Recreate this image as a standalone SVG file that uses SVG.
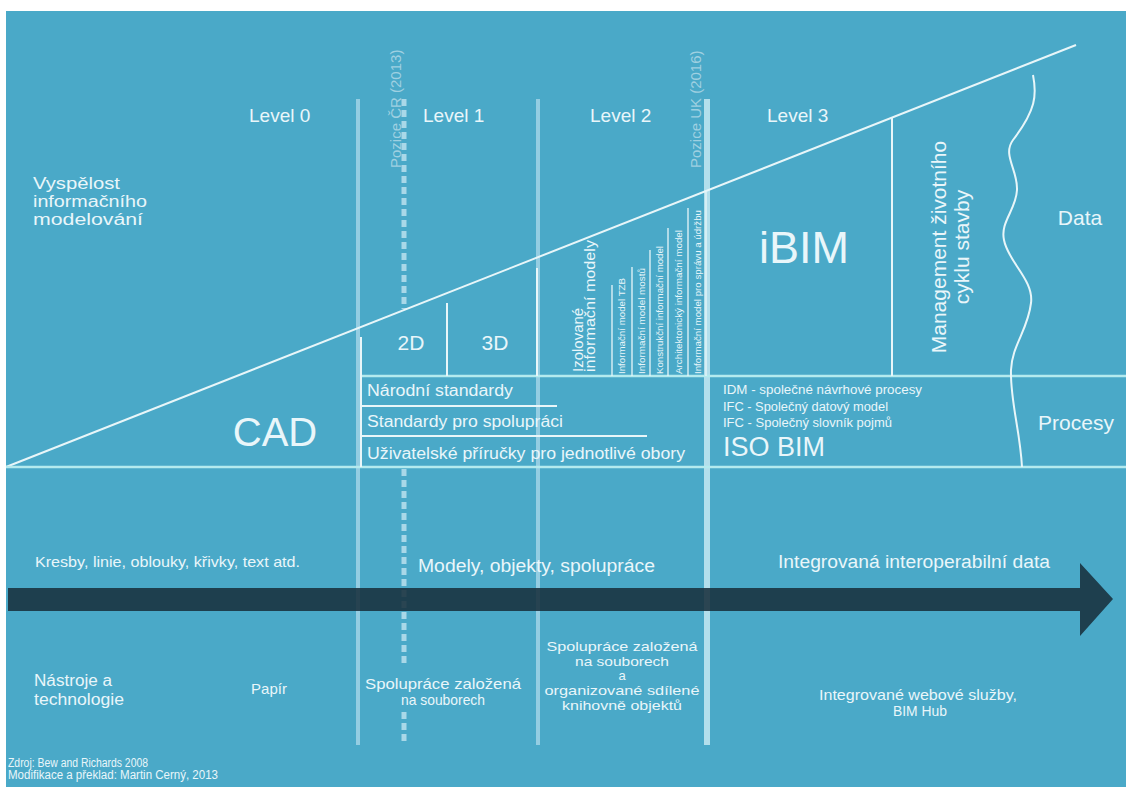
<svg xmlns="http://www.w3.org/2000/svg" width="1126" height="787" viewBox="0 0 1126 787">
  <style>
    text { font-family: "Liberation Sans", Arial, sans-serif; fill: #e9f6fa; }
    .lvl { font-size: 19px; }
    .frame { stroke: #e8f6f9; stroke-width: 2; fill: none; }
    .band { stroke: #b4eaee; stroke-width: 2.5; fill: none; }
    .era { stroke: #94cde2; stroke-width: 4; fill: none; }
    .dash { stroke: #a9d8e8; stroke-width: 5; stroke-dasharray: 7 4; fill: none; }
    .tiny { font-size: 9px; }
    .pos { font-size: 15px; fill: #9fd0e1; }
  </style>

  <!-- background -->
  <rect x="0" y="0" width="1126" height="787" fill="#ffffff"/>
  <rect x="6" y="11" width="1120" height="776" fill="#4aa9c8"/>

  <g id="connectors">
    <!-- era separators and position markers -->
    <line class="era" x1="358" y1="99" x2="358" y2="745"/>
    <line class="era" x1="538" y1="99" x2="538" y2="745" stroke-width="5"/>
    <line x1="707" y1="99" x2="707" y2="745" stroke="#b3dfec" stroke-width="6"/>
    <line class="dash" x1="404" y1="99" x2="404" y2="309"/>
    <line class="dash" x1="404" y1="469" x2="404" y2="664"/>
    <line class="dash" x1="404" y1="712" x2="404" y2="745"/>

    <!-- maturity wedge -->
    <line class="frame" x1="6" y1="467" x2="1076" y2="45"/>
    <line class="band" x1="6" y1="467" x2="1126" y2="467"/>
    <line class="band" x1="360" y1="376" x2="1126" y2="376"/>
    <line class="frame" x1="361" y1="337" x2="361" y2="467"/>
    <line class="frame" x1="447" y1="303" x2="447" y2="376"/>
    <line class="frame" x1="537" y1="268" x2="537" y2="376"/>
    <line class="frame" x1="892" y1="118" x2="892" y2="376"/>
    <line class="frame" x1="360" y1="406" x2="557" y2="406" stroke-width="1.5"/>
    <line class="frame" x1="360" y1="436" x2="647" y2="436" stroke-width="1.5"/>

    <!-- level 2 model columns -->
    <g stroke="#e8f6f9" stroke-width="1.3">
      <line x1="612" y1="285" x2="612" y2="376"/>
      <line x1="632" y1="267" x2="632" y2="376"/>
      <line x1="650" y1="250" x2="650" y2="376"/>
      <line x1="668" y1="228" x2="668" y2="376"/>
      <line x1="688" y1="208" x2="688" y2="376"/>
      <line x1="706" y1="192" x2="706" y2="376"/>
    </g>

    <!-- data / process boundary -->
    <path class="frame" d="M1033,75 C1037,95 1036,110 1013,140 C1002,155 1018,170 1017,190 C1016,210 1000,222 1004,240 C1008,262 1034,280 1031,303 C1028,330 1012,345 1011,370 C1010,400 1020,430 1022,467"/>

    <!-- timeline arrow -->
    <path d="M8,588 L1080,588 L1080,563 L1113,599 L1080,636 L1080,611 L8,611 Z" fill="#18303c" fill-opacity="0.88"/>
  </g>

  <!-- position labels -->
  <g id="pozice-cr">
    <text class="pos" transform="translate(401,168) rotate(-90)">Pozice ČR (2013)</text>
  </g>
  <g id="pozice-uk">
    <text class="pos" transform="translate(701,168) rotate(-90)">Pozice UK (2016)</text>
  </g>

  <g id="levels">
    <text class="lvl" x="249" y="122">Level 0</text>
    <text class="lvl" x="423" y="122">Level 1</text>
    <text class="lvl" x="590" y="122">Level 2</text>
    <text class="lvl" x="767" y="122">Level 3</text>
  </g>

  <g id="vyspelost" font-size="16">
    <text x="33" y="189" textLength="87" lengthAdjust="spacingAndGlyphs">Vyspělost</text>
    <text x="33" y="207" textLength="114" lengthAdjust="spacingAndGlyphs">informačního</text>
    <text x="33" y="225" textLength="110" lengthAdjust="spacingAndGlyphs">modelování</text>
  </g>

  <g id="cad">
    <text font-size="40" x="275" y="446" text-anchor="middle">CAD</text>
  </g>

  <g id="dims">
    <text font-size="21" x="411" y="350" text-anchor="middle">2D</text>
    <text font-size="21" x="495" y="350" text-anchor="middle">3D</text>
  </g>

  <g id="standardy">
    <text font-size="16" x="367" y="396" textLength="146" lengthAdjust="spacingAndGlyphs">Národní standardy</text>
    <text font-size="16" x="367" y="427" textLength="196" lengthAdjust="spacingAndGlyphs">Standardy pro spolupráci</text>
    <text font-size="16" x="367" y="459" textLength="318" lengthAdjust="spacingAndGlyphs">Uživatelské příručky pro jednotlivé obory</text>
  </g>

  <g id="izolovane">
    <text font-size="15" transform="translate(583,372) rotate(-90)">Izolované</text>
    <text font-size="15" transform="translate(595,372) rotate(-90)" textLength="132" lengthAdjust="spacingAndGlyphs">informační modely</text>
    <text class="tiny" transform="translate(625,374) rotate(-90)" textLength="96" lengthAdjust="spacingAndGlyphs">Informační model TZB</text>
    <text class="tiny" transform="translate(645,374) rotate(-90)" textLength="106" lengthAdjust="spacingAndGlyphs">Informační model mostů</text>
    <text class="tiny" transform="translate(663,374) rotate(-90)" textLength="128" lengthAdjust="spacingAndGlyphs">Konstrukční informační model</text>
    <text class="tiny" transform="translate(682,374) rotate(-90)" textLength="144" lengthAdjust="spacingAndGlyphs">Architektonický informační model</text>
    <text class="tiny" transform="translate(701,374) rotate(-90)" textLength="164" lengthAdjust="spacingAndGlyphs">Informační model pro správu a údržbu</text>
  </g>

  <g id="ibim">
    <text font-size="45" x="804" y="263" text-anchor="middle">iBIM</text>
  </g>

  <g id="management">
    <text font-size="21" text-anchor="middle" transform="translate(946,247) rotate(-90)">Management životního</text>
    <text font-size="21" text-anchor="middle" transform="translate(969,247) rotate(-90)">cyklu stavby</text>
  </g>

  <g id="data">
    <text font-size="21" x="1080" y="225" text-anchor="middle">Data</text>
  </g>

  <g id="iso-bim">
    <text font-size="12" x="723" y="394" textLength="199" lengthAdjust="spacingAndGlyphs">IDM - společné návrhové procesy</text>
    <text font-size="12" x="723" y="411" textLength="165" lengthAdjust="spacingAndGlyphs">IFC - Společný datový model</text>
    <text font-size="12" x="723" y="427" textLength="169" lengthAdjust="spacingAndGlyphs">IFC - Společný slovník pojmů</text>
    <text font-size="27" x="723" y="456">ISO BIM</text>
  </g>

  <g id="procesy">
    <text font-size="21" x="1076" y="430" text-anchor="middle">Procesy</text>
  </g>

  <g id="timeline-labels">
    <text font-size="15" x="35" y="567" textLength="265" lengthAdjust="spacingAndGlyphs">Kresby, linie, oblouky, křivky, text atd.</text>
    <text font-size="18" x="418" y="572" textLength="237" lengthAdjust="spacingAndGlyphs">Modely, objekty, spolupráce</text>
    <text font-size="18" x="778" y="568" textLength="272" lengthAdjust="spacingAndGlyphs">Integrovaná interoperabilní data</text>
  </g>

  <g id="nastroje" font-size="16">
    <text x="34" y="686" textLength="78" lengthAdjust="spacingAndGlyphs">Nástroje a</text>
    <text x="34" y="705" textLength="90" lengthAdjust="spacingAndGlyphs">technologie</text>
  </g>

  <g id="tools" font-size="15" text-anchor="middle">
    <text x="269" y="694">Papír</text>
    <text x="443" y="689" textLength="156" lengthAdjust="spacingAndGlyphs">Spolupráce založená</text>
    <text x="443" y="705" textLength="84" lengthAdjust="spacingAndGlyphs">na souborech</text>
    <g font-size="13">
      <text x="622" y="651" textLength="151" lengthAdjust="spacingAndGlyphs">Spolupráce založená</text>
      <text x="622" y="666" textLength="94" lengthAdjust="spacingAndGlyphs">na souborech</text>
      <text x="622" y="680">a</text>
      <text x="622" y="695" textLength="155" lengthAdjust="spacingAndGlyphs">organizované sdílené</text>
      <text x="622" y="710" textLength="120" lengthAdjust="spacingAndGlyphs">knihovně objektů</text>
    </g>
    <text x="918" y="700" textLength="198" lengthAdjust="spacingAndGlyphs">Integrované webové služby,</text>
    <text x="920" y="716" textLength="54" lengthAdjust="spacingAndGlyphs">BIM Hub</text>
  </g>

  <g id="zdroj" font-size="12">
    <text x="8" y="767" textLength="140" lengthAdjust="spacingAndGlyphs">Zdroj: Bew and Richards 2008</text>
    <text x="8" y="779" textLength="210" lengthAdjust="spacingAndGlyphs">Modifikace a překlad: Martin Cerný, 2013</text>
  </g>
</svg>
